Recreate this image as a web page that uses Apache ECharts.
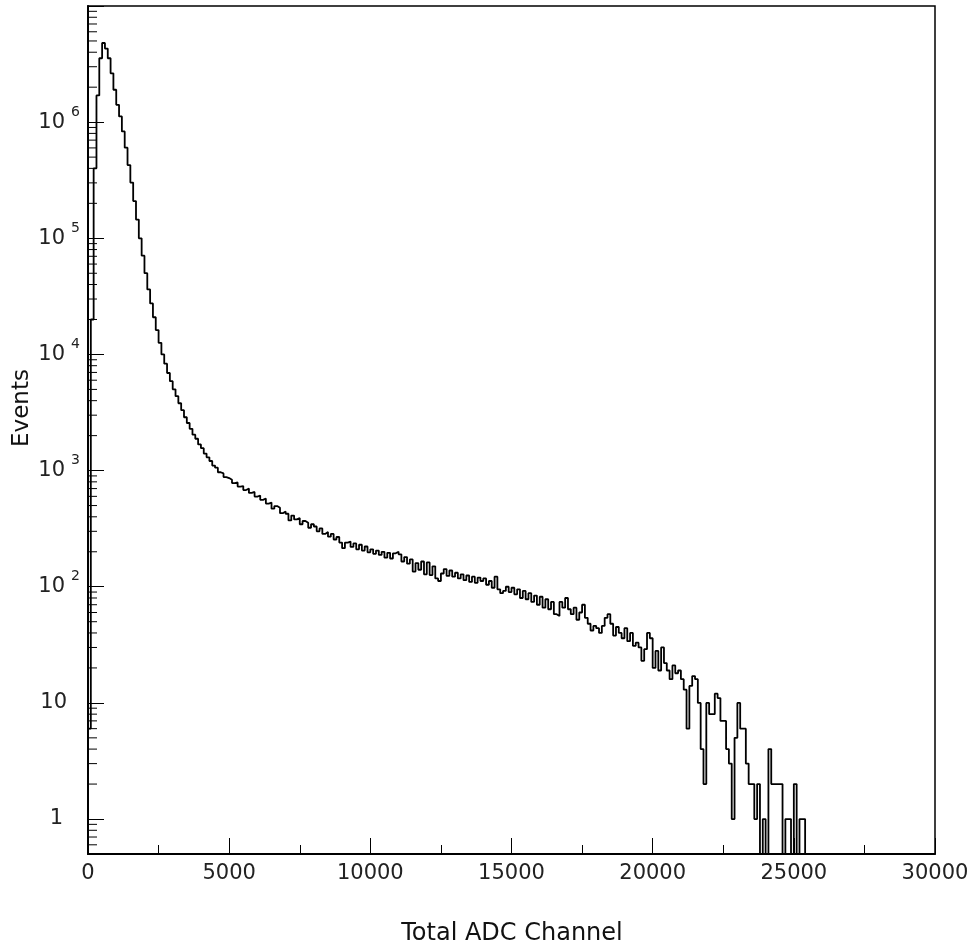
<!DOCTYPE html>
<html><head><meta charset="utf-8">
<script src="https://cdn.jsdelivr.net/npm/echarts@6/dist/echarts.min.js"></script>
<style>html,body{margin:0;padding:0;background:#fff}#c{width:975px;height:949px}</style>
</head><body><div id="c"></div>
<script>
// Histogram: bin width 100 ADC channels, starting at 0
const binWidth = 100;
const counts = [
  6, 20000, 400000, 1700000, 3550000, 4800000, 4300000, 3550000, 2630000, 1900000,
  1410000, 1120000, 832000, 603000, 427000, 302000, 209000, 145000, 100000, 70800,
  50100, 36300, 27500, 20900, 16200, 12600, 10000, 8320, 6920, 5890,
  5010, 4370, 3800, 3310, 2880, 2570, 2290, 2040, 1880, 1680,
  1560, 1400, 1300, 1210, 1105, 1060, 968, 945, 880, 862,
  835, 780, 790, 728, 735, 680, 700, 642, 655, 598,
  610, 560, 575, 520, 530, 470, 495, 478, 430, 445,
  425, 372, 410, 380, 390, 345, 368, 355, 322, 345,
  330, 300, 318, 285, 296, 270, 285, 255, 268, 240,
  215, 240, 245, 220, 236, 210, 230, 205, 222, 198,
  210, 192, 205, 188, 200, 178, 196, 175, 194, 200,
  190, 165, 180, 158, 172, 135, 160, 140, 165, 128,
  162, 126, 150, 118, 112, 130, 142, 124, 138, 122,
  132, 118, 128, 114, 125, 110, 122, 108, 120, 112,
  118, 104, 112, 98, 122, 95, 88, 92, 100, 90,
  98, 86, 95, 80, 92, 78, 88, 74, 84, 70,
  82, 66, 78, 64, 74, 58, 56, 74, 66, 80,
  64, 58, 66, 52, 60, 70, 54, 48, 42, 46,
  44, 40, 46, 54, 58, 48, 38, 45, 40, 36,
  44, 34, 40, 31, 33, 30, 23, 29, 40, 36,
  20, 28, 19, 30, 22, 19, 16, 21, 18, 19,
  16, 13, 6, 14, 17, 16, 10, 4, 2, 10,
  8, 8, 12, 11, 7, 7, 4, 3, 1, 5,
  10, 6, 6, 3, 2, 2, 1, 2, 0, 1,
  0, 4, 2, 2, 2, 2, 0, 1, 1, 0,
  2, 0, 1, 1, 0
];
const xMin = 0, xMax = 30000, xStep = 5000;
const yMin = 0.5, yMax = 1e7;
const xTitle = 'Total ADC Channel';
const yTitle = 'Events';

// minor tick values for the log axis (2..9 x 10^k)
const yMinorTicks = [];
for (let k = -1; k <= 6; k++) {
  for (let m = 2; m <= 9; m++) {
    const v = m * Math.pow(10, k);
    if (v > yMin && v < yMax) yMinorTicks.push(v);
  }
}

const FLOOR = 0.1; // empty bins drawn to the frame bottom
const histData = counts.map((v, i) => [i * binWidth, v > 0 ? v : FLOOR]);
histData.push([counts.length * binWidth, FLOOR]);

const FONT = 'DejaVu Sans';
const chart = echarts.init(document.getElementById('c'), null, {renderer: 'canvas'});
chart.setOption({
  backgroundColor: '#fff',
  animation: false,
  grid: {left: 88, top: 6, width: 847, height: 848, show: true, borderColor: '#000', borderWidth: 1.5, backgroundColor: 'transparent'},
  xAxis: {
    type: 'value', min: xMin, max: xMax, interval: xStep,
    axisLine: {show: true, onZero: false, lineStyle: {color: '#000', width: 2}},
    axisTick: {show: true, inside: true, length: 16, lineStyle: {color: '#000', width: 1}},
    minorTick: {show: true, splitNumber: 2, length: 9, lineStyle: {color: '#000', width: 1}},
    splitLine: {show: false}, minorSplitLine: {show: false},
    axisLabel: {margin: 9, fontFamily: FONT, fontSize: 21, color: '#222', formatter: v => String(v)}
  },
  yAxis: {
    type: 'log', logBase: 10, min: yMin, max: yMax,
    axisLine: {show: true, lineStyle: {color: '#000', width: 2}},
    axisTick: {show: true, inside: true, length: 16, lineStyle: {color: '#000', width: 1}},
    splitLine: {show: false},
    axisLabel: {
      margin: 8,
      formatter: function (v) {
        const e = Math.round(Math.log10(v));
        if (Math.abs(v - Math.pow(10, e)) / Math.pow(10, e) > 1e-6) return '';
        if (e < 0 || e > 6) return '';
        if (e === 0) return '{b|1}{p1| }';
        if (e === 1) return '{b|10}{p2| }';
        return '{b|10}{s|' + e + '}';
      },
      rich: {
        b: {fontFamily: FONT, fontSize: 21, lineHeight: 34, color: '#222'},
        s: {fontFamily: FONT, fontSize: 14, lineHeight: 16, color: '#222', verticalAlign: 'top', padding: [0, 0, 0, 6]},
        p1: {width: 17, fontSize: 14},
        p2: {width: 13, fontSize: 14}
      }
    }
  },
  series: [
    {
      type: 'line', step: 'end', data: histData, showSymbol: false, clip: true,
      lineStyle: {color: '#000', width: 1.8}, z: 3, silent: true
    },
    {
      type: 'custom', silent: true, z: 4,
      data: yMinorTicks.map(v => [xMin, v]),
      renderItem: function (params, api) {
        const p = api.coord([api.value(0), api.value(1)]);
        return {type: 'line', shape: {x1: p[0], y1: p[1], x2: p[0] + 9, y2: p[1]}, style: {stroke: '#000', lineWidth: 1}};
      }
    }
  ],
  graphic: [
    {type: 'text', x: 512, y: 934, style: {text: xTitle, font: '24px "DejaVu Sans"', fill: '#111', align: 'center', verticalAlign: 'middle'}},
    {type: 'text', x: 22, y: 408, rotation: Math.PI / 2, style: {text: yTitle, font: '23px "DejaVu Sans"', fill: '#111', align: 'center', verticalAlign: 'middle'}}
  ]
});
</script>
</body></html>
